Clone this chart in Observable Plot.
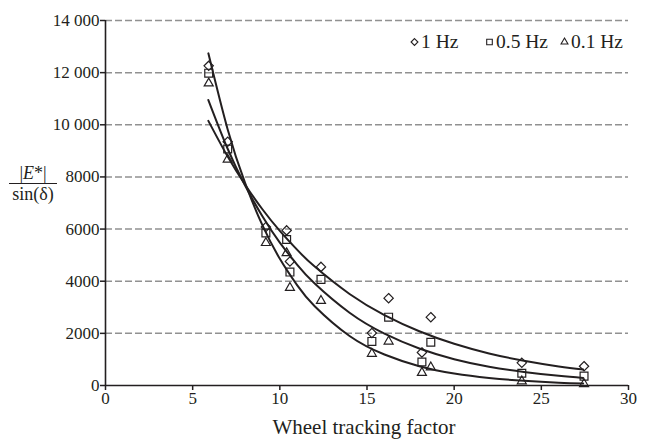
<!DOCTYPE html>
<html>
<head>
<meta charset="utf-8">
<script src="https://cdn.jsdelivr.net/npm/d3@7"></script>
<script src="https://cdn.jsdelivr.net/npm/@observablehq/plot@0.6"></script>
<style>
  body { margin: 0; background: #fff; }
  #chart { position: relative; width: 652px; height: 439px; font-family: "Liberation Serif", serif; color: #231f20; }
  #chart svg { display: block; }
  #chart svg g[aria-label="x-axis tick"] path,
  #chart svg g[aria-label="y-axis tick"] path { stroke-width: 1.5; }
  .xtitle { height: 24px; line-height: 24px; font-size: 21px; text-align: center; padding-left: 100px; padding-right: 24px; }
  .ytitle { position: absolute; left: 9px; top: 164px; width: 48px; text-align: center; font-size: 18px; }
  .ytitle .num { line-height: 19px; border-bottom: 1.4px solid #231f20; }
  .ytitle .den { line-height: 20px; }
  .legend { position: absolute; top: 31px; left: 0; font-size: 19.5px; line-height: 22px; }
  .legend .item { position: absolute; white-space: nowrap; display: flex; align-items: center; }
  .legend svg { margin-right: 2px; }
</style>
</head>
<body>
<div id="chart"></div>
<script>
// Wheel tracking factor against |E*|/sin(δ) at three loading frequencies
const frequencies = ["1 Hz", "0.5 Hz", "0.1 Hz"];
const symbols = ["diamond2", "square2", "triangle2"];

// measured specimens
const trackingFactor = [5.92, 7.01, 9.20, 10.39, 10.58, 12.36, 15.28, 16.24, 18.15, 18.66, 23.88, 27.45];
const modulus1Hz  = [12260, 9350, 6080, 5950, 4760, 4550, 2010, 3350, 1270, 2620, 870, 740];
const modulus05Hz = [11980, 9070, 5850, 5600, 4350, 4070, 1690, 2620, 900, 1660, 470, 360];
const modulus01Hz = [11590, 8670, 5470, 5080, 3750, 3250, 1220, 1690, 490, 700, 165, 60];

// exponential trend curves, sampled along the x range
const trendX = [5.9, 7, 8, 9, 10, 11, 12, 14, 16, 18, 20, 22, 24, 26, 27.4];
const trend1Hz  = [10150, 8790, 7710, 6760, 5930, 5200, 4560, 3510, 2700, 2080, 1600, 1230, 950, 730, 610];
const trend05Hz = [10950, 9090, 7680, 6490, 5480, 4630, 3910, 2790, 1990, 1420, 1010, 720, 520, 370, 290];
const trend01Hz = [12740, 9840, 7780, 6150, 4860, 3840, 3040, 1900, 1190, 740, 460, 290, 180, 110, 80];

// axis ticks
const xTicks = [0, 5, 10, 15, 20, 25, 30];
const yTicks = [0, 2000, 4000, 6000, 8000, 10000, 12000, 14000];
const yTickLabels = ["0", "2000", "4000", "6000", "8000", "10 000", "12 000", "14 000"];

const seriesValues = [modulus1Hz, modulus05Hz, modulus01Hz];
const trendValues = [trend1Hz, trend05Hz, trend01Hz];
const markerRadius = [4.2, 5.0, 4.3];

const points = frequencies.map((f, i) =>
  trackingFactor.map((x, j) => ({series: f, x, y: seriesValues[i][j]})));
const trends = frequencies.flatMap((f, i) =>
  trendX.map((x, j) => ({series: f, x, y: trendValues[i][j]})));

const ink = "#231f20";

const plot = Plot.plot({
  width: 652,
  height: 415,
  marginLeft: 105,
  marginRight: 24,
  marginTop: 20,
  marginBottom: 30,
  style: {fontFamily: "'Liberation Serif', serif", fontSize: "17px", color: ink, background: "#fff"},
  x: {domain: [0, 30], ticks: xTicks, tickSize: 5, tickPadding: 1, label: null},
  y: {domain: [0, 14000], ticks: yTicks, tickSize: 5, tickPadding: 1, label: null,
      tickFormat: d => yTickLabels[yTicks.indexOf(d)]},
  marks: [
    Plot.ruleY(yTicks.filter(d => d > 0), {stroke: "#919191", strokeWidth: 1.5, strokeDasharray: "7,3"}),
    Plot.ruleX([0], {stroke: ink, strokeWidth: 1.6}),
    Plot.ruleY([0], {stroke: ink, strokeWidth: 1.6}),
    Plot.line(trends, {x: "x", y: "y", z: "series", curve: "natural", stroke: ink, strokeWidth: 2}),
    ...points.map((pts, i) =>
      Plot.dot(pts, {x: "x", y: "y", symbol: symbols[i], r: markerRadius[i], stroke: ink, strokeWidth: 1.2, fill: "none"}))
  ]
});

const root = document.getElementById("chart");
root.appendChild(plot);

const xTitle = document.createElement("div");
xTitle.className = "xtitle";
xTitle.textContent = "Wheel tracking factor";
root.appendChild(xTitle);

// fraction label for the y axis
const yTitle = document.createElement("div");
yTitle.className = "ytitle";
yTitle.innerHTML = '<div class="num">|<i>E</i>*|</div><div class="den">sin(δ)</div>';
root.appendChild(yTitle);

// legend in the top right of the plotting area
const legend = document.createElement("div");
legend.className = "legend";
const legendLeft = [410, 485, 560];
const legendSymbols = [d3.symbolDiamond2, d3.symbolSquare2, d3.symbolTriangle2];
const legendSizes = [30, 40, 34];
frequencies.forEach((f, i) => {
  const item = document.createElement("div");
  item.className = "item";
  item.style.left = legendLeft[i] + "px";
  const path = d3.symbol(legendSymbols[i], legendSizes[i])();
  item.innerHTML = `<svg width="9" height="22" viewBox="-4.5 -11 9 22"><path d="${path}" fill="none" stroke="${ink}" stroke-width="1.1"/></svg><span>${f}</span>`;
  legend.appendChild(item);
});
root.appendChild(legend);
</script>
</body>
</html>
